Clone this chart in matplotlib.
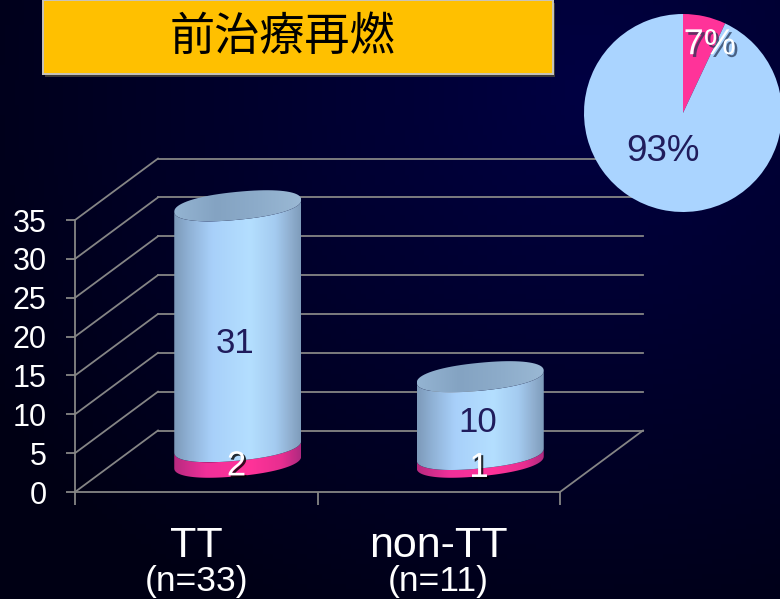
import numpy as np
import matplotlib
matplotlib.use("Agg")
import matplotlib.pyplot as plt
import matplotlib.patheffects as pe
from matplotlib.colors import LinearSegmentedColormap
from matplotlib.patches import Polygon, Rectangle

plt.rcParams["font.family"] = ["Liberation Sans", "Noto Sans CJK JP", "DejaVu Sans"]

title = "前治療再燃"
groups = ["TT", "non-TT"]
group_sizes = ["(n=33)", "(n=11)"]
relapse = [2, 1]
no_relapse = [31, 10]
y_ticks = [0, 5, 10, 15, 20, 25, 30, 35]
pie_values = [7, 93]
pie_labels = ["7%", "93%"]

W, H = 780, 599
PX_X = 242.5  # pixels per category
PX_Y = 7.77  # pixels per count
LEFT, ZERO = 75, 492  # pixel position of the origin
DEPTH_X, DEPTH_Y = 83 / PX_X, 61.5 / PX_Y
BASE_Y = 29.8 / PX_Y  # centre of the cylinder base above the floor's front edge
RIM_A, RIM_B, RIM_S = 63.5 / PX_X, 14 / PX_Y, 6 / PX_Y

GRID = "#858585"
NAVY = "#201c5c"
blue_cmap = LinearSegmentedColormap.from_list(
    "blue", [(0, "#7d9aba"), (0.12, "#90b2d6"), (0.3, "#a8d0fa"), (0.6, "#b4dfff"), (0.8, "#a4cbf0"), (0.92, "#90afd0"), (1, "#7f9dbc")])
pink_cmap = LinearSegmentedColormap.from_list(
    "pink", [(0, "#b82a80"), (0.25, "#f0309a"), (0.6, "#ff3399"), (0.85, "#e82e90"), (1, "#b02a80")])
cap_cmap = LinearSegmentedColormap.from_list("cap", ["#94b4d2", "#84a3c2", "#8dacca", "#9ab8d4"])


def rim(cx, value, start, stop):
    t = np.linspace(start, stop, 80)
    # slightly squarer than a true ellipse, like the picture's rims
    c = np.sign(np.cos(t)) * np.abs(np.cos(t)) ** 0.9
    s = np.sign(np.sin(t)) * np.abs(np.sin(t)) ** 0.9
    return np.column_stack([
        cx + RIM_A * c,
        value + BASE_Y + RIM_S * c + RIM_B * s,
    ])


def shade(ax, outline, cmap):
    x0, x1 = outline[:, 0].min(), outline[:, 0].max()
    y0, y1 = outline[:, 1].min(), outline[:, 1].max()
    img = ax.imshow(np.linspace(0, 1, 200)[None, :], cmap=cmap, extent=(x0, x1, y0, y1),
                    aspect="auto", zorder=3, interpolation="bilinear")
    img.set_clip_path(Polygon(outline, transform=ax.transData))


def cylinder(ax, cx, low, high):
    bottom, top = low, low + high
    shade(ax, np.vstack([rim(cx, 0, np.pi, 2 * np.pi), rim(cx, bottom, 2 * np.pi, np.pi)]), pink_cmap)
    shade(ax, np.vstack([rim(cx, bottom, np.pi, 2 * np.pi), rim(cx, top, 2 * np.pi, np.pi)]), blue_cmap)
    shade(ax, rim(cx, top, 0, 2 * np.pi), cap_cmap)


fig = plt.figure(figsize=(W / 100, H / 100), dpi=100)
ax = fig.add_axes([0, 0, 1, 1])
ax.patch.set_visible(False)

# background glow, brighter towards the upper right
yy, xx = np.mgrid[0:1:120j, 0:1:160j]
glow = np.clip(1 - np.hypot((xx - 0.75) / 0.9, (yy - 0.15) / 1.0), 0, 1)
bg = np.dstack([np.zeros_like(glow), np.zeros_like(glow), (0.08 + 0.18 * glow)])
xlim = (-LEFT / PX_X, (W - LEFT) / PX_X)
ylim = ((ZERO - H) / PX_Y, ZERO / PX_Y)
ax.imshow(bg, extent=(*xlim, *ylim), origin="upper", aspect="auto", zorder=0)

n = len(groups)
back_right = n + DEPTH_X
for tick in y_ticks:
    ax.plot([0, DEPTH_X], [tick, tick + DEPTH_Y], color=GRID, lw=1.3, zorder=1, clip_on=False)
    ax.plot([DEPTH_X, back_right], [tick + DEPTH_Y] * 2, color=GRID, lw=1.3, zorder=1)
ax.plot([n, back_right], [0, DEPTH_Y], color=GRID, lw=1.3, zorder=1)

label_y = [[-0.6, 15.2], [-0.8, 5.0]]
white_shadow = [pe.withSimplePatchShadow(offset=(1.5, -1.5), shadow_rgbFace="black", alpha=0.8)]
for i, group in enumerate(groups):
    cx = i + 0.5 + DEPTH_X / 2
    cylinder(ax, cx, relapse[i], no_relapse[i])
    base = DEPTH_Y / 2
    ax.text(cx - 0.005, base + label_y[i][0], str(relapse[i]), color="white", fontsize=25,
            ha="center", va="center", zorder=5, path_effects=white_shadow)
    ax.text(cx - 0.012, base + label_y[i][1], str(no_relapse[i]), color=NAVY, fontsize=25,
            ha="center", va="center", zorder=5)
    ax.text(i + 0.5, -7.0, group, color="white", fontsize=31, ha="center", va="center")
    ax.text(i + 0.5, -11.5, group_sizes[i], color="white", fontsize=25.5, ha="center", va="center")

ax.set_xlim(*xlim)
ax.set_ylim(*ylim)
for name in ("top", "right"):
    ax.spines[name].set_visible(False)
for name in ("left", "bottom"):
    ax.spines[name].set_position(("data", 0))
    ax.spines[name].set_color(GRID)
    ax.spines[name].set_linewidth(1.3)
ax.spines["left"].set_bounds(0, y_ticks[-1])
ax.spines["bottom"].set_bounds(0, n)
ax.set_yticks(y_ticks)
ax.set_xticks(range(n + 1))
ax.set_xticklabels([])
ax.tick_params(axis="y", length=6.5, width=1.3, color=GRID, labelcolor="white", labelsize=22, pad=14)
ax.tick_params(axis="x", length=9.4, width=1.3, color=GRID)

# title banner
shadow = Rectangle((45 / W, (H - 77) / H), 510 / W, 74 / H, transform=fig.transFigure,
                   facecolor="#3c3838", edgecolor="none", zorder=1)
fig.add_artist(shadow)
banner = fig.add_axes([43 / W, (H - 74) / H, 510 / W, 74 / H], facecolor="#ffc000", zorder=2)
banner.set_xticks([])
banner.set_yticks([])
for spine in banner.spines.values():
    spine.set_color("#c8c4bc")
    spine.set_linewidth(1.4)
banner.text(0.47, 0.5, title, transform=banner.transAxes, fontsize=32.5, color="black",
            ha="center", va="center", family=["Noto Sans CJK JP", "DejaVu Sans"])

# pie inset
pie_ax = fig.add_axes([584 / W, (H - 212) / H, 198 / W, 198 / H], zorder=3)
pie_ax.pie(pie_values, colors=["#ff3399", "#aad4ff"], startangle=90, counterclock=False, radius=1)
pie_ax.set_xlim(-1, 1)
pie_ax.set_ylim(-1, 1)
pie_ax.text(0.27, 0.69, pie_labels[0], color="white", fontsize=26, ha="center", va="center",
            path_effects=[pe.withSimplePatchShadow(offset=(2, -2), shadow_rgbFace="#203050", alpha=0.7)])
pie_ax.text(-0.2, -0.39, pie_labels[1], color=NAVY, fontsize=26.5, ha="center", va="center")

fig.savefig("out.png", dpi=100, facecolor="#000028")
